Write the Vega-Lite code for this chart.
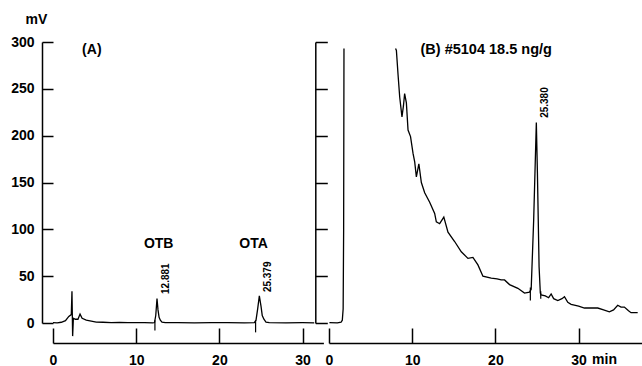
{
  "$schema": "https://vega.github.io/schema/vega-lite/v6.json",
  "autosize": {"type": "pad"},
  "padding": {"left": 10, "top": 12, "right": 0, "bottom": 0},
  "background": "white",
  "bounds": "flush",
  "spacing": 5,
  "config": {
    "view": {"stroke": null},
    "font": "Liberation Sans",
    "axis": {
      "grid": false,
      "domainColor": "black",
      "tickColor": "black",
      "domainWidth": 1.5,
      "tickWidth": 1.5,
      "labelFont": "Liberation Sans",
      "labelFontWeight": "bold",
      "labelFontSize": 14,
      "labelColor": "black",
      "labelFlush": false,
      "labelOverlap": false,
      "titleFont": "Liberation Sans",
      "titleFontWeight": "bold",
      "titleFontSize": 14,
      "titleColor": "black"
    },
    "text": {"font": "Liberation Sans", "fontWeight": "bold", "color": "black"}
  },
  "datasets": {
    "A": [
      {"x": 0.0, "y": 0.5}, {"x": 0.5, "y": 0.2}, {"x": 1.0, "y": 0.8}, {"x": 1.5, "y": 2.5},
      {"x": 1.9, "y": 7}, {"x": 2.2, "y": 9}, {"x": 2.28, "y": 34}, {"x": 2.36, "y": -14},
      {"x": 2.45, "y": 5}, {"x": 2.7, "y": 4}, {"x": 3.0, "y": 4}, {"x": 3.25, "y": 9.5},
      {"x": 3.5, "y": 5}, {"x": 4.0, "y": 3}, {"x": 4.6, "y": 2}, {"x": 5.2, "y": 1},
      {"x": 6, "y": 0.8}, {"x": 7, "y": 0.5}, {"x": 8, "y": 0.6}, {"x": 9, "y": 0.3},
      {"x": 10, "y": 0.4}, {"x": 11, "y": 0.3}, {"x": 12.0, "y": 0.2}, {"x": 12.2, "y": 0.5},
      {"x": 12.35, "y": 8}, {"x": 12.5, "y": 26}, {"x": 12.62, "y": 14}, {"x": 12.75, "y": 6},
      {"x": 12.9, "y": 3}, {"x": 13.1, "y": 0.8}, {"x": 13.5, "y": 0.3}, {"x": 15, "y": 0.5},
      {"x": 17, "y": 0.2}, {"x": 19, "y": 0.4}, {"x": 21, "y": 0.3}, {"x": 23, "y": 0.2},
      {"x": 24.2, "y": 0.4}, {"x": 24.4, "y": 3}, {"x": 24.6, "y": 15}, {"x": 24.8, "y": 29},
      {"x": 25.0, "y": 18}, {"x": 25.15, "y": 8}, {"x": 25.35, "y": 4}, {"x": 25.6, "y": 1},
      {"x": 26, "y": 0.4}, {"x": 28, "y": 0.2}, {"x": 30, "y": 0.3}, {"x": 31.4, "y": 0.2}
    ],
    "Amarks": [
      {"x": 12.25, "y": -8, "y2": 3},
      {"x": 24.35, "y": -10, "y2": 3}
    ],
    "Alabel": [
      {"x": 3.5, "y": 291, "t": "(A)"}
    ],
    "Atext": [
      {"x": 12.7, "y": 84, "t": "OTB"},
      {"x": 24.1, "y": 84, "t": "OTA"}
    ],
    "Arot": [
      {"x": 13.6, "y": 31, "t": "12.881"},
      {"x": 25.8, "y": 33, "t": "25.379"}
    ],
    "B": [
      {"x": 0.05, "y": 0.3, "s": 1}, {"x": 1.0, "y": 0.2, "s": 1}, {"x": 1.45, "y": 0.8, "s": 1},
      {"x": 1.6, "y": 3, "s": 1}, {"x": 1.7, "y": 15, "s": 1}, {"x": 1.76, "y": 100, "s": 1},
      {"x": 1.8, "y": 293, "s": 1},
      {"x": 8.0, "y": 293, "s": 2}, {"x": 8.1, "y": 291, "s": 2}, {"x": 8.3, "y": 265, "s": 2},
      {"x": 8.5, "y": 241, "s": 2}, {"x": 8.77, "y": 220, "s": 2}, {"x": 8.95, "y": 232, "s": 2},
      {"x": 9.09, "y": 245, "s": 2}, {"x": 9.3, "y": 235, "s": 2}, {"x": 9.5, "y": 206, "s": 2},
      {"x": 9.8, "y": 199, "s": 2}, {"x": 10.1, "y": 181, "s": 2}, {"x": 10.3, "y": 172, "s": 2},
      {"x": 10.5, "y": 156, "s": 2}, {"x": 10.8, "y": 170, "s": 2}, {"x": 11.1, "y": 150, "s": 2},
      {"x": 11.5, "y": 139, "s": 2}, {"x": 12.1, "y": 129, "s": 2}, {"x": 12.7, "y": 117, "s": 2},
      {"x": 12.9, "y": 108, "s": 2}, {"x": 13.3, "y": 106, "s": 2}, {"x": 13.8, "y": 113, "s": 2},
      {"x": 14.3, "y": 97, "s": 2}, {"x": 15.1, "y": 87, "s": 2}, {"x": 15.9, "y": 76, "s": 2},
      {"x": 16.7, "y": 69, "s": 2}, {"x": 17.3, "y": 70, "s": 2}, {"x": 17.9, "y": 62, "s": 2},
      {"x": 18.5, "y": 50, "s": 2}, {"x": 19.5, "y": 48, "s": 2}, {"x": 20.2, "y": 47, "s": 2},
      {"x": 20.7, "y": 46, "s": 2}, {"x": 21.1, "y": 46, "s": 2}, {"x": 21.7, "y": 41, "s": 2},
      {"x": 22.7, "y": 37, "s": 2}, {"x": 23.5, "y": 32, "s": 2}, {"x": 24.1, "y": 33, "s": 2},
      {"x": 24.3, "y": 36, "s": 2}, {"x": 24.6, "y": 110, "s": 2}, {"x": 24.92, "y": 214, "s": 2},
      {"x": 25.05, "y": 160, "s": 2}, {"x": 25.25, "y": 60, "s": 2}, {"x": 25.4, "y": 32, "s": 2},
      {"x": 25.5, "y": 30, "s": 2}, {"x": 26.0, "y": 29, "s": 2}, {"x": 26.4, "y": 27, "s": 2},
      {"x": 26.7, "y": 31, "s": 2}, {"x": 27.0, "y": 26, "s": 2}, {"x": 27.5, "y": 24, "s": 2},
      {"x": 28.0, "y": 26, "s": 2}, {"x": 28.3, "y": 28, "s": 2}, {"x": 28.7, "y": 22, "s": 2},
      {"x": 29.1, "y": 20, "s": 2}, {"x": 30.0, "y": 18, "s": 2}, {"x": 30.7, "y": 16, "s": 2},
      {"x": 31.5, "y": 16, "s": 2}, {"x": 32.3, "y": 16, "s": 2}, {"x": 33.0, "y": 14, "s": 2},
      {"x": 33.7, "y": 12, "s": 2}, {"x": 34.2, "y": 14, "s": 2}, {"x": 34.7, "y": 19, "s": 2},
      {"x": 35.1, "y": 17, "s": 2}, {"x": 35.5, "y": 17, "s": 2}, {"x": 36.0, "y": 13, "s": 2},
      {"x": 36.3, "y": 11, "s": 2}, {"x": 37.1, "y": 11, "s": 2}
    ],
    "Bmarks": [
      {"x": 24.2, "y": 24, "y2": 38},
      {"x": 25.45, "y": 26, "y2": 34}
    ],
    "Btext": [
      {"x": 11.0, "y": 291, "t": "(B) #5104 18.5 ng/g"}
    ],
    "Brot": [
      {"x": 26.0, "y": 219, "t": "25.380"}
    ]
  },
  "hconcat": [
    {
      "width": 270.4,
      "height": 281,
      "layer": [
        {
          "data": {"name": "A"},
          "mark": {"type": "line", "color": "black", "strokeWidth": 1.3},
          "encoding": {
            "x": {"field": "x", "type": "quantitative",
              "scale": {"domain": [0, 32.5], "nice": false, "zero": false},
              "axis": {"orient": "bottom", "offset": 20, "tickSize": -15, "values": [0, 10, 20, 30], "labelPadding": 25, "title": null}},
            "y": {"field": "y", "type": "quantitative",
              "scale": {"domain": [0, 300], "nice": false},
              "axis": {"offset": 11, "tickSize": -11, "values": [0, 50, 100, 150, 200, 250, 300], "labelPadding": 19,
                "title": "mV", "titleAngle": 0, "titleX": -6, "titleY": -23, "titleAlign": "center", "titleBaseline": "middle"}}
          }
        },
        {
          "data": {"name": "Amarks"},
          "mark": {"type": "rule", "color": "black", "strokeWidth": 1.2},
          "encoding": {
            "x": {"field": "x", "type": "quantitative"},
            "y": {"field": "y", "type": "quantitative"},
            "y2": {"field": "y2"}
          }
        },
        {
          "data": {"name": "Alabel"},
          "mark": {"type": "text", "fontSize": 14, "baseline": "middle", "align": "left"},
          "encoding": {
            "x": {"field": "x", "type": "quantitative"},
            "y": {"field": "y", "type": "quantitative"},
            "text": {"field": "t"}
          }
        },
        {
          "data": {"name": "Atext"},
          "mark": {"type": "text", "fontSize": 14, "baseline": "middle", "align": "center"},
          "encoding": {
            "x": {"field": "x", "type": "quantitative"},
            "y": {"field": "y", "type": "quantitative"},
            "text": {"field": "t"}
          }
        },
        {
          "data": {"name": "Arot"},
          "mark": {"type": "text", "fontSize": 10, "angle": 270, "align": "left", "baseline": "middle"},
          "encoding": {
            "x": {"field": "x", "type": "quantitative"},
            "y": {"field": "y", "type": "quantitative"},
            "text": {"field": "t"}
          }
        }
      ]
    },
    {
      "width": 314.5,
      "height": 281,
      "layer": [
        {
          "data": {"name": "B"},
          "mark": {"type": "line", "color": "black", "strokeWidth": 1.3},
          "encoding": {
            "x": {"field": "x", "type": "quantitative",
              "scale": {"domain": [0, 37.8], "nice": false, "zero": false},
              "axis": {"orient": "bottom", "offset": 20, "tickSize": -15, "values": [0, 10, 20, 30], "labelPadding": 25,
                "title": "min", "titleX": 275, "titleY": 16, "titleAlign": "center", "titleBaseline": "middle", "titleAngle": 0}},
            "y": {"field": "y", "type": "quantitative",
              "scale": {"domain": [0, 300], "nice": false},
              "axis": {"offset": 13.7, "tickSize": -12, "values": [0, 50, 100, 150, 200, 250, 300], "labels": false, "title": null}},
            "detail": {"field": "s", "type": "nominal"}
          }
        },
        {
          "data": {"name": "Bmarks"},
          "mark": {"type": "rule", "color": "black", "strokeWidth": 1.2},
          "encoding": {
            "x": {"field": "x", "type": "quantitative"},
            "y": {"field": "y", "type": "quantitative"},
            "y2": {"field": "y2"}
          }
        },
        {
          "data": {"name": "Btext"},
          "mark": {"type": "text", "fontSize": 14.5, "baseline": "middle", "align": "left"},
          "encoding": {
            "x": {"field": "x", "type": "quantitative"},
            "y": {"field": "y", "type": "quantitative"},
            "text": {"field": "t"}
          }
        },
        {
          "data": {"name": "Brot"},
          "mark": {"type": "text", "fontSize": 10, "angle": 270, "align": "left", "baseline": "middle"},
          "encoding": {
            "x": {"field": "x", "type": "quantitative"},
            "y": {"field": "y", "type": "quantitative"},
            "text": {"field": "t"}
          }
        }
      ]
    }
  ]
}
